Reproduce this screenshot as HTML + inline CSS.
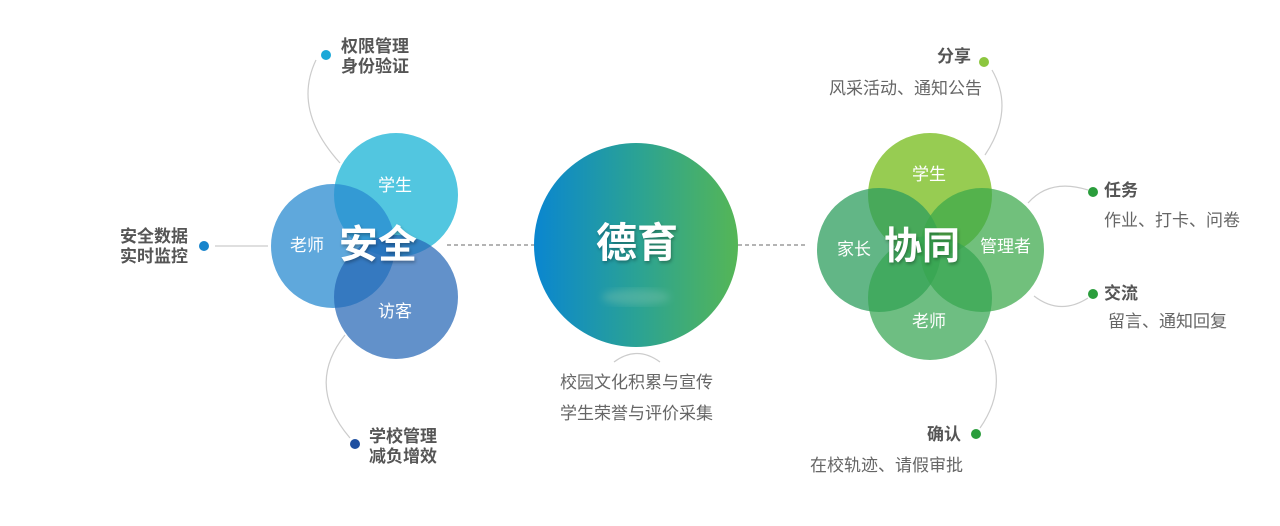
<!DOCTYPE html>
<html><head><meta charset="utf-8"><style>
body{margin:0;width:1280px;height:526px;background:#fff;position:relative;overflow:hidden;font-family:"Liberation Sans","Noto Sans CJK SC",sans-serif}
.t{position:absolute;white-space:nowrap;line-height:20px}
.b{font-weight:bold;color:#555;font-size:17px}
.r{color:#666;font-size:17px}
</style></head><body>
<svg width="1280" height="526" style="position:absolute;left:0;top:0">
<defs>
<linearGradient id="g" x1="0" x2="1" y1="0" y2="0"><stop offset="0" stop-color="#0a86d0"/><stop offset="0.5" stop-color="#2aa295"/><stop offset="1" stop-color="#55b656"/></linearGradient>
<filter id="bl"><feGaussianBlur stdDeviation="4"/></filter>
</defs>
<g fill="none" stroke="#ccc" stroke-width="1.2">
<path d="M316 60 Q292 110 340 163"/>
<path d="M345 335 Q305 385 350 438"/>
<path d="M614 362 Q637 345 660 362"/>
<path d="M992 70 Q1015 110 985 155"/>
<path d="M1088 190 Q1050 178 1028 203"/>
<path d="M1034 296 Q1060 316 1088 298"/>
<path d="M985 340 Q1010 385 980 428"/>
<line x1="215" y1="246" x2="268" y2="246"/>
</g>
<g stroke="#888" stroke-width="1.2" stroke-dasharray="4 3">
<line x1="447" y1="245" x2="534" y2="245"/>
<line x1="738" y1="245" x2="808" y2="245"/>
</g>
<circle cx="396" cy="195" r="62" fill="#3fc0dd" opacity="0.9"/>
<circle cx="333" cy="246" r="62" fill="#2a8bd0" opacity="0.75"/>
<circle cx="396" cy="297" r="62" fill="#2566b5" opacity="0.72"/>
<circle cx="636" cy="245" r="102" fill="url(#g)"/>
<ellipse cx="636" cy="297" rx="34" ry="8" fill="#7fc4b0" opacity="0.4" filter="url(#bl)"/>
<circle cx="930" cy="195" r="62" fill="#8cc63f" opacity="0.9"/>
<circle cx="879" cy="250" r="62" fill="#2e9e5e" opacity="0.75"/>
<circle cx="982" cy="250" r="62" fill="#3aa84a" opacity="0.72"/>
<circle cx="930" cy="298" r="62" fill="#36a552" opacity="0.72"/>
<circle cx="326" cy="55" r="5" fill="#1ba8d8"/>
<circle cx="204" cy="246" r="5" fill="#1784cc"/>
<circle cx="355" cy="444" r="5" fill="#1e4fa0"/>
<circle cx="984" cy="62" r="5" fill="#8cc63f"/>
<circle cx="1093" cy="192" r="5" fill="#2a9d3c"/>
<circle cx="1093" cy="294" r="5" fill="#2a9d3c"/>
<circle cx="976" cy="434" r="5" fill="#2a9d3c"/>
</svg>
<div class="t" style="left:378px;top:176px;color:#fff;font-size:17px">学生</div>
<div class="t" style="left:290px;top:236px;color:#fff;font-size:17px">老师</div>
<div class="t" style="left:378px;top:302px;color:#fff;font-size:17px">访客</div>
<div class="t" style="left:339px;top:224px;color:#fff;font-size:39px;font-weight:bold;line-height:44px;text-shadow:1px 2px 3px rgba(0,0,0,.3)">安全</div>
<div class="t" style="left:596px;top:220px;color:#fff;font-size:41px;font-weight:bold;line-height:46px;text-shadow:1px 2px 3px rgba(0,0,0,.3)">德育</div>
<div class="t" style="left:912px;top:165px;color:#fff;font-size:17px">学生</div>
<div class="t" style="left:837px;top:240px;color:#fff;font-size:17px">家长</div>
<div class="t" style="left:980px;top:237px;color:#fff;font-size:17px">管理者</div>
<div class="t" style="left:912px;top:312px;color:#fff;font-size:17px">老师</div>
<div class="t" style="left:884px;top:225px;color:#fff;font-size:38px;font-weight:bold;line-height:44px;text-shadow:1px 2px 3px rgba(0,0,0,.3)">协同</div>
<div class="t b" style="left:341px;top:37px">权限管理<br>身份验证</div>
<div class="t b" style="left:120px;top:227px">安全数据<br>实时监控</div>
<div class="t b" style="left:369px;top:427px">学校管理<br>减负增效</div>
<div class="t r" style="left:560px;top:367px;line-height:31px">校园文化积累与宣传<br>学生荣誉与评价采集</div>
<div class="t b" style="left:937px;top:47px">分享</div>
<div class="t r" style="left:829px;top:79px">风采活动、通知公告</div>
<div class="t b" style="left:1104px;top:181px">任务</div>
<div class="t r" style="left:1104px;top:211px">作业、打卡、问卷</div>
<div class="t b" style="left:1104px;top:284px">交流</div>
<div class="t r" style="left:1108px;top:312px">留言、通知回复</div>
<div class="t b" style="left:927px;top:425px">确认</div>
<div class="t r" style="left:810px;top:456px">在校轨迹、请假审批</div>
</body></html>
